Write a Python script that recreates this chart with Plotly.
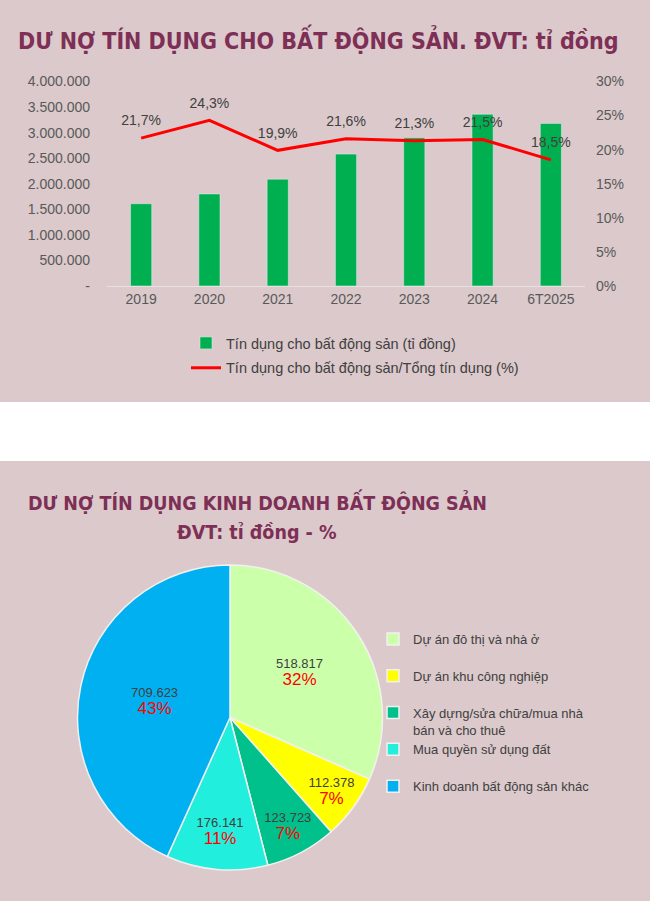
import plotly.graph_objects as go

# ---- data: top chart ----
years = ["2019", "2020", "2021", "2022", "2023", "2024", "6T2025"]
credit_re = [1610000, 1800000, 2090000, 2580000, 2900000, 3360000, 3180000]
share_re = [0.217, 0.243, 0.199, 0.216, 0.213, 0.215, 0.185]
left_tickvals = [0, 500000, 1000000, 1500000, 2000000, 2500000, 3000000, 3500000, 4000000]
left_ticktext = ["-", "500.000", "1.000.000", "1.500.000", "2.000.000", "2.500.000",
                 "3.000.000", "3.500.000", "4.000.000"]

# ---- data: pie ----
pie_labels = ["Dự án đô thị và nhà ở",
              "Dự án khu công nghiệp",
              "Xây dựng/sửa chữa/mua nhà<br>bán và cho thuê",
              "Mua quyền sử dụng đất",
              "Kinh doanh bất động sản khác"]
pie_values = [518817, 112378, 123723, 176141, 709623]
pie_pct_labels = ["32%", "7%", "7%", "11%", "43%"]
pie_colors = ["#ccffaa", "#ffff00", "#00c08b", "#22eedd", "#00b0f0"]

W, H = 650, 901
BG = "#dbc9cb"
TITLE_C = "#7e2f56"
FONT = "Liberation Sans"
TFONT = "DejaVu Sans Condensed"

def px_x(p):
    return p / W

def px_y(p):
    return 1 - p / H

fig = go.Figure()

fig.add_trace(go.Bar(
    x=years, y=credit_re, name="Tín dụng cho bất động sản (tỉ đồng)",
    marker=dict(color="#00b050"), width=0.31, yaxis="y",
    legend="legend", legendgroup="bar",
))
fig.add_trace(go.Scatter(
    x=years, y=share_re, name="Tín dụng cho bất động sản/Tổng tín dụng (%)",
    mode="lines+markers+text", line=dict(color="#ff0000", width=3),
    marker=dict(size=13, color="rgba(0,0,0,0)"),
    texttemplate="%{y:.1%}", textposition="top center",
    textfont=dict(size=14, color="#404040", family=FONT),
    yaxis="y2", legend="legend", legendgroup="line", cliponaxis=False,
))

# pie labels padded to two lines so legend rows are evenly spaced
pie_legend_labels = [l if "<br>" in l else l + "<br> " for l in pie_labels]
fig.add_trace(go.Pie(
    labels=pie_legend_labels, values=pie_values, customdata=pie_pct_labels,
    sort=False, direction="clockwise", rotation=0,
    marker=dict(colors=pie_colors, line=dict(color="#f4f0f0", width=1.5)),
    texttemplate="<span style='color:#404040'>%{value:,}</span><br>"
                 "<span style='color:#ff0000;font-size:17px'>%{customdata}</span>",
    textposition="inside", insidetextorientation="horizontal",
    textfont=dict(size=13, family=FONT, color="#404040"),
    domain=dict(x=[px_x(77.5), px_x(382.5)], y=[px_y(870), px_y(565)]),
    legend="legend2", hoverinfo="label+value+percent",
))

fig.update_layout(
    width=W, height=H,
    margin=dict(l=0, r=0, t=0, b=0, autoexpand=False),
    paper_bgcolor=BG, plot_bgcolor="rgba(0,0,0,0)",
    separators=",.",
    font=dict(family=FONT, color="#404040"),
    showlegend=True,
    uniformtext=dict(minsize=13, mode="show"),
    xaxis=dict(domain=[px_x(107), px_x(585)], anchor="y", automargin=False,
               showline=True, linecolor="#e8e0e1", linewidth=1,
               tickfont=dict(size=14, color="#595959"), ticks="",
               showgrid=False, zeroline=False),
    yaxis=dict(domain=[px_y(286), px_y(81.5)], range=[0, 4000000], automargin=False,
               tickvals=left_tickvals, ticktext=left_ticktext,
               tickfont=dict(size=14, color="#595959"),
               showgrid=False, zeroline=False, ticks="", ticklabelstandoff=16),
    yaxis2=dict(overlaying="y", side="right", range=[0, 0.30], dtick=0.05,
                automargin=False,
                tickformat=".0%", tickfont=dict(size=14, color="#595959"),
                showgrid=False, zeroline=False, ticks="", ticklabelstandoff=10),
    legend=dict(x=px_x(186), y=px_y(327), xanchor="left", yanchor="top",
                bgcolor="rgba(0,0,0,0)", font=dict(size=14.5, color="#404040"),
                itemwidth=30, traceorder="grouped", tracegroupgap=3),
    legend2=dict(x=px_x(373), y=px_y(624), xanchor="left", yanchor="top",
                 bgcolor="rgba(0,0,0,0)", font=dict(size=13, color="#404040"),
                 valign="top", itemwidth=30),
    shapes=[dict(type="rect", xref="paper", yref="paper",
                 x0=0, x1=1, y0=px_y(461), y1=px_y(402),
                 fillcolor="#ffffff", line=dict(width=0), layer="below")],
    annotations=[
        dict(text="<b>DƯ NỢ TÍN DỤNG CHO BẤT ĐỘNG SẢN. ĐVT: tỉ đồng</b>",
             x=px_x(318), y=px_y(39), xref="paper", yref="paper",
             xanchor="center", yanchor="middle", showarrow=False,
             font=dict(family=TFONT, size=23, color=TITLE_C)),
        dict(text="<b>DƯ NỢ TÍN DỤNG KINH DOANH BẤT ĐỘNG SẢN</b>",
             x=px_x(257), y=px_y(502), xref="paper", yref="paper",
             xanchor="center", yanchor="middle", showarrow=False,
             font=dict(family=TFONT, size=19.5, color=TITLE_C)),
        dict(text="<b>ĐVT: tỉ đồng - %</b>",
             x=px_x(257), y=px_y(532), xref="paper", yref="paper",
             xanchor="center", yanchor="middle", showarrow=False,
             font=dict(family=TFONT, size=19.5, color=TITLE_C)),
    ],
)

fig.write_html("out.html",
               config={"displayModeBar": False},
               post_script="document.body.style.margin='0';"
                           "document.body.style.overflow='hidden';")
